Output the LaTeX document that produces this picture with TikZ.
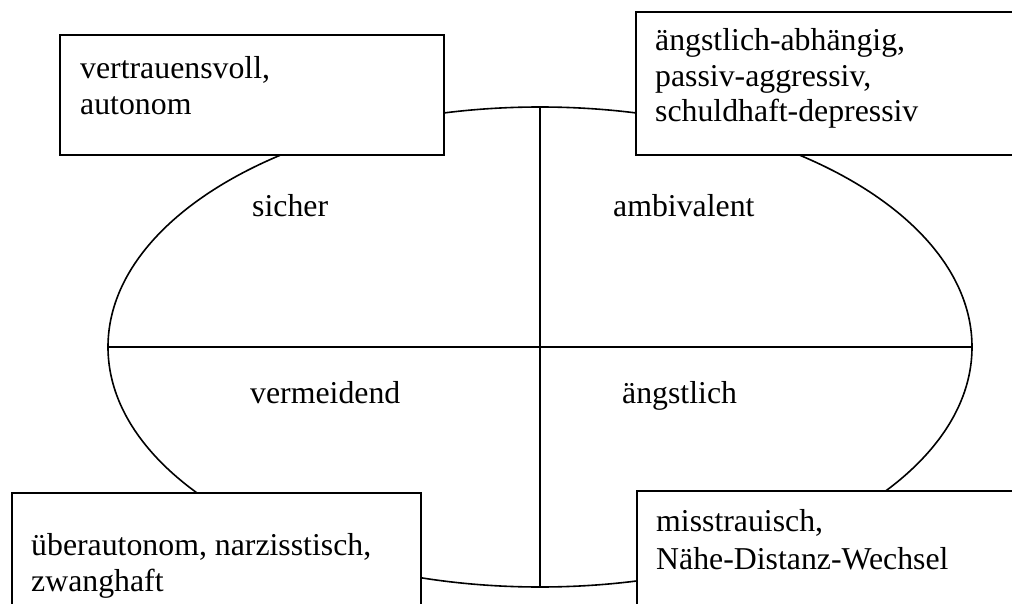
\documentclass[tikz,border=0pt]{standalone}
\usepackage{fontspec}
\setmainfont{Liberation Serif}
\usetikzlibrary{shapes.geometric}
\tikzset{
  stroke/.style={line width=1.6pt, draw=black},
  oval/.style={stroke, ellipse, inner sep=0pt, minimum width=864pt, minimum height=480pt},
  frame/.style={stroke, fill=white, rectangle, inner sep=0pt, anchor=north west},
  txt/.style={font=\fontsize{31.8}{38}\selectfont, inner sep=0pt, anchor=base west},
}
\begin{document}
\begin{tikzpicture}[x=1pt,y=-1pt]
\useasboundingbox (0,0) rectangle (1012,604);
\node[oval] (ell) at (540,347) {};
\draw[stroke] (ell.west) -- (ell.east);
\draw[stroke] (ell.north) -- (ell.south);
\node[txt] (lsicher) at (252,217) {sicher};
\node[txt] (lambi) at (613,217) {ambivalent};
\node[txt] (lverm) at (250,403) {vermeidend};
\node[txt] (langst) at (622,403) {ängstlich};
% boxes
\node[frame, minimum width=384pt, minimum height=120pt] (b1) at (59,34) {};
\node[txt] (b1a) at (80,79) {vertrauensvoll,};
\node[txt] (b1b) at (80,115) {autonom};
\node[frame, minimum width=380pt, minimum height=143pt] (b2) at (635,11) {};
\node[txt] (b2a) at (655,51) {ängstlich-abhängig,};
\node[txt] (b2b) at (655,87) {passiv-aggressiv,};
\node[txt] (b2c) at (655,122) {schuldhaft-depressiv};
\node[frame, minimum width=409pt, minimum height=130pt] (b3) at (11,492) {};
\node[txt] (b3a) at (31,555) {überautonom, narzisstisch,};
\node[txt] (b3b) at (31,591) {zwanghaft};
\node[frame, minimum width=380pt, minimum height=130pt] (b4) at (636,490) {};
\node[txt] (b4a) at (656,531) {misstrauisch,};
\node[txt] (b4b) at (656,569) {Nähe-Distanz-Wechsel};
\end{tikzpicture}
\end{document}
